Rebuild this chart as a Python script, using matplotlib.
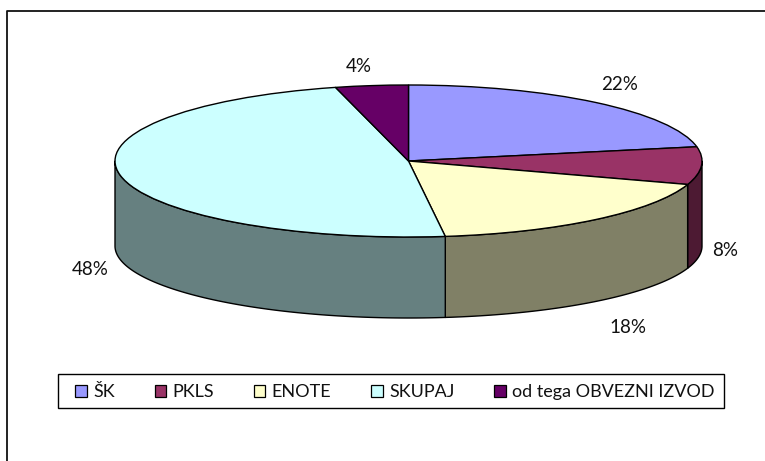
import numpy as np
import matplotlib
matplotlib.use("Agg")
import matplotlib.pyplot as plt
from matplotlib.patches import Polygon, Patch, Rectangle

categories = ["ŠK", "PKLS", "ENOTE", "SKUPAJ", "od tega OBVEZNI IZVOD"]
values = [22, 8, 18, 48, 4]
top_colors = ["#9999FF", "#993366", "#FFFFCC", "#CCFFFF", "#660066"]
wall_colors = ["#4D4D80", "#4D1A33", "#808066", "#668080", "#330033"]
label_pos = [(620, 84), (725, 250), (628, 327), (90, 269), (359, 66)]

W, H = 765, 461
CX, CY, RX, RY = 408.5, 161.0, 293.5, 76.0
DEPTH_SIDE, RY_BOTTOM = 85.0, 72.0
plt.rcParams["font.family"] = ["Lato", "DejaVu Sans"]

fig = plt.figure(figsize=(W / 100, H / 100), dpi=100, facecolor="white")
bg = fig.add_axes([0, 0, 1, 1])
bg.set_xlim(0, W)
bg.set_ylim(H, 0)
bg.axis("off")

# chart frame: only the top and left edges fall inside the image
bg.plot([7, 7, W], [H, 11, 11], color="#111111", lw=1.3, solid_capstyle="butt")

# walls
edges = np.cumsum([0] + values) / sum(values) * 2 * np.pi


def top_xy(t):
    return CX + RX * np.sin(t), CY - RY * np.cos(t)


def bot_xy(t):
    return CX + RX * np.sin(t), CY + DEPTH_SIDE - RY_BOTTOM * np.cos(t)


for i in range(len(values)):
    a, b = max(edges[i], np.pi / 2), min(edges[i + 1], 3 * np.pi / 2)
    if a >= b:
        continue
    t = np.linspace(a, b, 120)
    xt, yt = top_xy(t)
    xb, yb = bot_xy(t[::-1])
    pts = np.column_stack([np.r_[xt, xb], np.r_[yt, yb]])
    bg.add_patch(Polygon(pts, closed=True, facecolor=wall_colors[i],
                         edgecolor="black", lw=1.0, joinstyle="round"))

# top face
pie_ax = fig.add_axes([(CX - RX) / W, 1 - (CY + RY) / H, 2 * RX / W, 2 * RY / H])
pie_ax.pie(values, colors=top_colors, startangle=90, counterclock=False,
           radius=1, center=(0, 0),
           wedgeprops={"edgecolor": "black", "linewidth": 1.0, "clip_on": False})
pie_ax.set_aspect("auto")
pie_ax.set_xlim(-1, 1)
pie_ax.set_ylim(-1, 1)
pie_ax.patch.set_alpha(0)
pie_ax.axis("off")

# data labels
for v, (x, y) in zip(values, label_pos):
    bg.text(x, y, f"{v}%", ha="center", va="center", fontsize=13.5, color="#111111")

# legend box and entries
bg.add_patch(Rectangle((58, 374), 666, 34, facecolor="white", edgecolor="black", lw=1.0))
handles = [Patch(facecolor=c, edgecolor="black", lw=0.9) for c in top_colors]
leg = bg.legend(handles, categories, ncol=5, loc="center",
                bbox_to_anchor=(395 / W, 1 - 392 / H),
                fontsize=13, frameon=False,
                handlelength=0.64, handleheight=0.64, handletextpad=0.35,
                columnspacing=2.2, borderpad=0, borderaxespad=0)
for t in leg.get_texts():
    t.set_color("#111111")

fig.savefig("out.png", dpi=100, facecolor="white")
